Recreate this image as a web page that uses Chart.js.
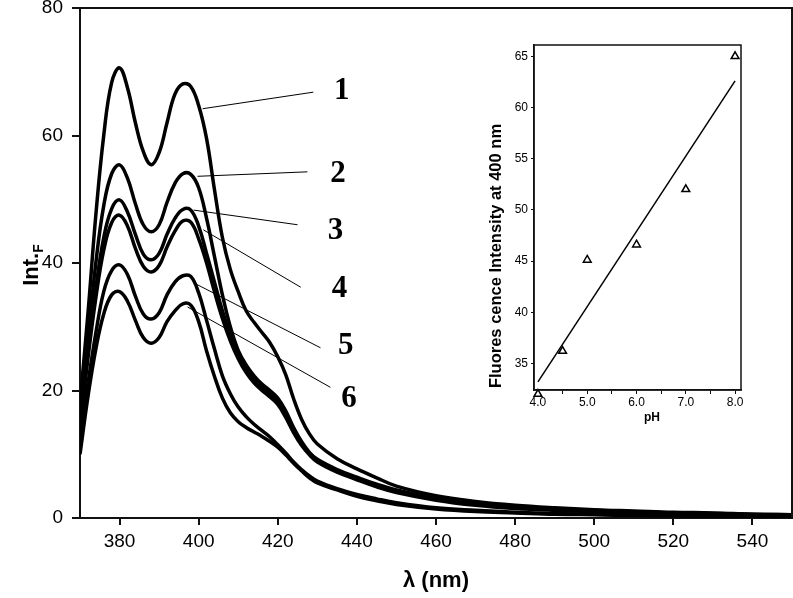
<!DOCTYPE html>
<html>
<head>
<meta charset="utf-8">
<script src="https://cdn.jsdelivr.net/npm/chart.js@4.4.0/dist/chart.umd.min.js"></script>
<style>
  body { margin: 0; background: #fff; }
  #wrap { position: relative; width: 793px; height: 598px; }
  #main { position: absolute; left: 0; top: 0; }
  #inset { position: absolute; left: 470px; top: 30px; }
</style>
</head>
<body>
<div id="wrap">
  <canvas id="main" width="793" height="598"></canvas>
  <canvas id="inset" width="290" height="410"></canvas>
</div>
<script>
// wavelengths (nm)
const lambda = [370,372,374,376,378,380,382,384,386,388,390,392,394,396,398,400,402,404,406,408,410,412,414,416,418,420,422,424,426,428,430,435,440,445,450,460,470,480,490,500,510,520,530,540,550];

// fluorescence intensity, curves 1..6
const c1 = [18,32,47.5,60,68.3,70.6,67.5,62,57.5,55.4,57.3,62,66.5,68.1,67.7,64.7,59.5,51.5,44,39,35.5,32.5,30.7,29.1,27.5,25.3,22.5,18.7,15.5,13.2,11.6,9.3,7.7,6.3,5,3.5,2.6,2.0,1.6,1.3,1.1,0.9,0.8,0.6,0.5];
const c2 = [16,28,40,49,54,55.4,53.3,49.3,46,44.9,46,49.5,52.5,54.0,53.9,51.8,47,41,35,30,26.3,24,22.3,21,20,18.8,16.8,14.2,12,10.3,9.2,7.6,6.4,5.3,4.4,3.1,2.3,1.8,1.4,1.2,1.0,0.8,0.7,0.6,0.5];
const c3 = [15,26,36,44,48.5,49.9,48,44.5,41.4,40.5,41.5,44.5,47,48.4,48.3,45.8,41.5,37,32.5,28.8,25.8,23.5,21.8,20.5,19.5,18.3,16.3,13.8,11.7,10.1,9,7.4,6.2,5.1,4.2,3.0,2.2,1.7,1.3,1.1,0.9,0.8,0.6,0.5,0.4];
const c4 = [14,25,34.5,42,46.3,47.5,45.8,42.3,39.5,38.6,39.6,42.5,45,46.6,46.4,43.8,40,35.5,31.3,27.8,25,22.8,21.2,20,19,17.8,15.8,13.4,11.4,9.9,8.8,7.2,6.0,4.9,4.0,2.8,2.0,1.5,1.2,1.0,0.8,0.7,0.6,0.5,0.4];
const c5 = [12,21,29,35.5,38.8,39.7,38.2,34.8,32,31.2,32.2,35,37,38.0,37.9,35.3,31,26.5,22.3,19.5,17.4,15.9,14.7,13.7,12.7,11.5,10.2,8.8,7.6,6.6,5.8,4.6,3.7,3.0,2.4,1.6,1.2,0.9,0.7,0.6,0.5,0.4,0.3,0.3,0.2];
const c6 = [10,19,26.5,32,35,35.5,34,31,28.3,27.4,28.3,30.8,32.5,33.6,33.4,30.8,26.2,22.2,18.8,16.5,15.1,14.2,13.5,12.8,12,11.1,9.9,8.6,7.4,6.3,5.5,4.4,3.4,2.7,2.1,1.4,1.0,0.8,0.6,0.5,0.4,0.35,0.3,0.25,0.2];
const curves = [c1, c2, c3, c4, c5, c6];

const xTicks = [380,400,420,440,460,480,500,520,540];
const yTicks = [0,20,40,60,80];

// curve labels with leader lines (data coordinates)
const curveLabels = ['1','2','3','4','5','6'];
const leaderFrom = [[401.0,64.2],[399.7,53.6],[398.7,48.3],[401.2,45.2],[398.7,36.9],[397.2,33.1]];
const leaderTo   = [[429.0,66.8],[427.5,54.3],[425.0,46.0],[425.8,36.2],[430.8,26.7],[433.3,20.5]];
const labelAt    = [[436.2,67.0],[435.2,54.0],[434.6,45.0],[435.6,36.0],[437.2,27.0],[438.0,18.6]];

// inset: intensity at 400 nm vs pH
const phVals = [4.0,4.5,5.0,6.0,7.0,8.0];
const int400 = [32.0,36.2,45.1,46.6,52.0,65.0];
const fitPH = [4.0,8.0];
const fitInt = [33.2,62.6];
const insetXTicks = [4.0,4.5,5.0,5.5,6.0,6.5,7.0,7.5,8.0];
const insetYTicks = [35,40,45,50,55,60,65];

const sans = "'Liberation Sans', Arial, sans-serif";

const mainDecor = {
  id: 'mainDecor',
  afterDraw(chart) {
    const {ctx, chartArea: a, scales: {x, y}} = chart;
    ctx.save();
    // top + right frame
    ctx.strokeStyle = '#111';
    ctx.lineWidth = 2;
    ctx.beginPath();
    ctx.moveTo(a.left, a.top); ctx.lineTo(a.right, a.top); ctx.lineTo(a.right, a.bottom);
    ctx.stroke();
    // leaders + numbers
    ctx.lineWidth = 1;
    ctx.strokeStyle = '#000';
    ctx.fillStyle = '#000';
    ctx.font = "bold 31px 'Liberation Serif', 'Times New Roman', serif";
    ctx.textAlign = 'center';
    ctx.textBaseline = 'middle';
    curveLabels.forEach((t, i) => {
      ctx.beginPath();
      ctx.moveTo(x.getPixelForValue(leaderFrom[i][0]), y.getPixelForValue(leaderFrom[i][1]));
      ctx.lineTo(x.getPixelForValue(leaderTo[i][0]), y.getPixelForValue(leaderTo[i][1]));
      ctx.stroke();
      ctx.fillText(t, x.getPixelForValue(labelAt[i][0]), y.getPixelForValue(labelAt[i][1]));
    });
    // y title Int.F
    ctx.translate(30, 265);
    ctx.rotate(-Math.PI / 2);
    ctx.textAlign = 'left';
    ctx.textBaseline = 'alphabetic';
    ctx.font = 'bold 22px ' + sans;
    const w1 = ctx.measureText('Int.').width;
    ctx.font = 'bold 14px ' + sans;
    const w2 = ctx.measureText('F').width;
    const x0 = -(w1 + w2) / 2;
    ctx.font = 'bold 22px ' + sans;
    ctx.fillText('Int.', x0, 8);
    ctx.font = 'bold 14px ' + sans;
    ctx.fillText('F', x0 + w1, 13);
    ctx.restore();
  }
};

new Chart(document.getElementById('main'), {
  type: 'line',
  data: {
    datasets: curves.map(c => ({
      data: lambda.map((l, i) => ({x: l, y: c[i]})),
      borderColor: '#000',
      borderWidth: 3.5,
      pointRadius: 0,
      fill: false,
      tension: 0.4
    }))
  },
  options: {
    responsive: false,
    animation: false,
    layout: {padding: {top: 8, right: 1, left: 0, bottom: 0}},
    plugins: {legend: {display: false}, tooltip: {enabled: false}},
    scales: {
      x: {
        type: 'linear', min: 370, max: 550,
        afterBuildTicks: s => { s.ticks = xTicks.map(v => ({value: v})); },
        afterFit: s => { s.height = 80; s.paddingLeft = 0; s.paddingRight = 0; },
        grid: {drawOnChartArea: false, drawTicks: true, tickLength: 7, color: '#111', lineWidth: 2},
        border: {display: true, color: '#111', width: 2},
        ticks: {color: '#000', padding: 5, maxRotation: 0, font: {family: sans, size: 19}},
        title: {display: true, text: 'λ (nm)', color: '#000', padding: {top: 0, bottom: 4}, font: {family: sans, size: 22, weight: 'bold'}}
      },
      y: {
        min: 0, max: 80,
        afterBuildTicks: s => { s.ticks = yTicks.map(v => ({value: v})); },
        afterFit: s => { s.width = 80; s.paddingTop = 0; s.paddingBottom = 0; },
        grid: {drawOnChartArea: false, drawTicks: true, tickLength: 8, color: '#111', lineWidth: 2},
        border: {display: true, color: '#111', width: 2},
        ticks: {color: '#000', padding: 9, font: {family: sans, size: 19}}
      }
    }
  },
  plugins: [mainDecor]
});

const insetDecor = {
  id: 'insetDecor',
  afterDraw(chart) {
    const {ctx, chartArea: a} = chart;
    ctx.save();
    ctx.strokeStyle = '#111';
    ctx.lineWidth = 1.5;
    ctx.strokeRect(a.left, a.top, a.right - a.left, a.bottom - a.top);
    ctx.fillStyle = '#000';
    ctx.textAlign = 'center';
    ctx.textBaseline = 'middle';
    ctx.font = 'bold 12px ' + sans;
    ctx.fillText('pH', 182, 388);
    ctx.translate(26, 226);
    ctx.rotate(-Math.PI / 2);
    ctx.font = 'bold 16.5px ' + sans;
    ctx.fillText('Fluores cence Intensity at 400 nm', 0, 0);
    ctx.restore();
  }
};

new Chart(document.getElementById('inset'), {
  type: 'scatter',
  data: {
    datasets: [
      {
        data: phVals.map((p, i) => ({x: p, y: int400[i]})),
        pointStyle: 'triangle', pointRadius: 4.5, borderWidth: 1.5,
        borderColor: '#000', backgroundColor: '#fff', clip: false
      },
      {
        data: fitPH.map((p, i) => ({x: p, y: fitInt[i]})),
        showLine: true, borderColor: '#000', borderWidth: 1.5, pointRadius: 0, tension: 0
      }
    ]
  },
  options: {
    responsive: false,
    animation: false,
    layout: {padding: {top: 15, right: 19, left: 0, bottom: 0}},
    plugins: {legend: {display: false}, tooltip: {enabled: false}},
    scales: {
      x: {
        type: 'linear', min: 3.92, max: 8.12,
        afterBuildTicks: s => { s.ticks = insetXTicks.map(v => ({value: v})); },
        afterFit: s => { s.height = 50; s.paddingLeft = 0; s.paddingRight = 0; },
        grid: {drawOnChartArea: false, drawTicks: true, tickLength: 4, color: '#111'},
        border: {display: true, color: '#111', width: 1.5},
        ticks: {color: '#000', padding: 1, maxRotation: 0, autoSkip: false,
          font: {family: sans, size: 12},
          callback: v => Number.isInteger(v) ? v.toFixed(1) : ''}
      },
      y: {
        min: 32.4, max: 66.1,
        afterBuildTicks: s => { s.ticks = insetYTicks.map(v => ({value: v})); },
        afterFit: s => { s.width = 64; s.paddingTop = 0; s.paddingBottom = 0; },
        grid: {drawOnChartArea: false, drawTicks: true, tickLength: 3, color: '#111'},
        border: {display: true, color: '#111', width: 1.5},
        ticks: {color: '#000', padding: 3, font: {family: sans, size: 12}}
      }
    }
  },
  plugins: [insetDecor]
});
</script>
</body>
</html>
